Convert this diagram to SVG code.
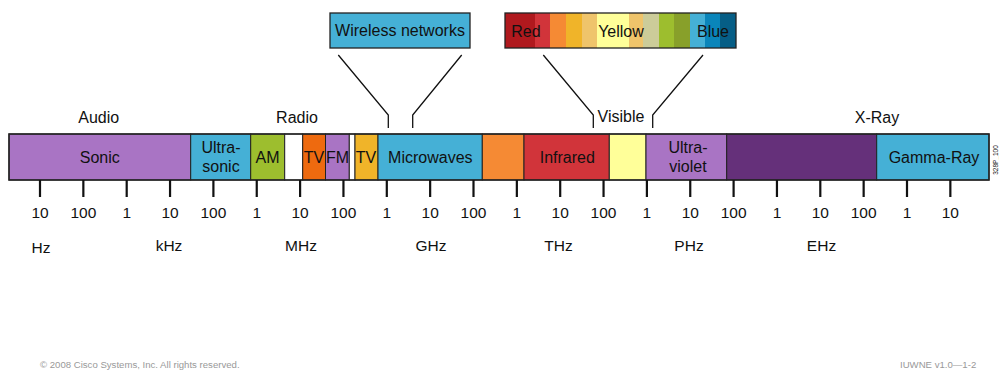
<svg xmlns="http://www.w3.org/2000/svg" width="999" height="371" viewBox="0 0 999 371">
<style>
text{font-family:"Liberation Sans",Arial,sans-serif;fill:#111}
.lbl{font-size:16px;text-anchor:middle}
.tk{font-size:15.5px;text-anchor:middle}
.seg{stroke:#222;stroke-width:1}
.cb{stroke:none}
.conn{fill:none;stroke:#111;stroke-width:1.3}
.tick{stroke:#111;stroke-width:2.2}
.foot{font-size:9.6px;fill:#999}
</style>
<rect width="999" height="371" fill="#fff"/>

<g id="wireless-networks">
<rect x="330" y="13" width="140" height="35" fill="#45B0D6" stroke="#222" stroke-width="1.3"/>
<text class="lbl" x="400" y="36">Wireless networks</text>
</g>

<g id="visible-colors">
<rect class="cb" x="505" y="13" width="30" height="35" fill="#B0191E"/>
<rect class="cb" x="535" y="13" width="15" height="35" fill="#D1343A"/>
<rect class="cb" x="550" y="13" width="16" height="35" fill="#F58A34"/>
<rect class="cb" x="566" y="13" width="16" height="35" fill="#F0B429"/>
<rect class="cb" x="582" y="13" width="15" height="35" fill="#EFC46B"/>
<rect class="cb" x="597" y="13" width="32" height="35" fill="#FFFF99"/>
<rect class="cb" x="629" y="13" width="14" height="35" fill="#EFC46B"/>
<rect class="cb" x="643" y="13" width="16" height="35" fill="#CCCC99"/>
<rect class="cb" x="659" y="13" width="15" height="35" fill="#9DBE2E"/>
<rect class="cb" x="674" y="13" width="16" height="35" fill="#88A02A"/>
<rect class="cb" x="690" y="13" width="15" height="35" fill="#45B0D6"/>
<rect class="cb" x="705" y="13" width="15" height="35" fill="#0A85BA"/>
<rect class="cb" x="720" y="13" width="16" height="35" fill="#065E86"/>
<rect x="505" y="13" width="231" height="35" fill="none" stroke="#222" stroke-width="1.3"/>
<text class="lbl" x="526" y="36.5">Red</text>
<text class="lbl" x="621" y="36.5">Yellow</text>
<text class="lbl" x="713" y="36.5">Blue</text>
</g>

<g id="connectors">
<polyline class="conn" points="338.3,55 388.3,115 388.3,128"/>
<polyline class="conn" points="461.7,55 412.7,115 412.7,128"/>
<polyline class="conn" points="543.3,55 593.3,115 593.3,128"/>
<polyline class="conn" points="703,55 652.7,115 652.7,128"/>
</g>

<g id="band-labels">
<text class="lbl" x="98.7" y="122.5">Audio</text>
<text class="lbl" x="297" y="122.5">Radio</text>
<text class="lbl" x="621" y="122">Visible</text>
<text class="lbl" x="877" y="122.5">X-Ray</text>
</g>

<g id="sonic"><rect class="seg" x="9" y="134" width="181.7" height="46" fill="#A974C4"/><text class="lbl" x="99.8" y="162.5">Sonic</text></g>
<g id="ultrasonic"><rect class="seg" x="190.7" y="134" width="60" height="46" fill="#45B0D6"/><text class="lbl" x="221" y="152.5">Ultra-</text><text class="lbl" x="221" y="172">sonic</text></g>
<g id="am"><rect class="seg" x="250.7" y="134" width="34" height="46" fill="#9DBE2E"/><text class="lbl" x="267.6" y="162.5">AM</text></g>
<g id="gap1"><rect class="seg" x="284.7" y="134" width="18" height="46" fill="#fff"/></g>
<g id="tv1"><rect class="seg" x="302.7" y="134" width="22.8" height="46" fill="#EE6A0F"/><text class="lbl" x="314" y="162.5">TV</text></g>
<g id="fm"><rect class="seg" x="325.5" y="134" width="23.8" height="46" fill="#A974C4"/><text class="lbl" x="337.6" y="162.5">FM</text></g>
<g id="gap2"><rect class="seg" x="349.3" y="134" width="5.7" height="46" fill="#fff"/></g>
<g id="tv2"><rect class="seg" x="355" y="134" width="23" height="46" fill="#F0B429"/><text class="lbl" x="366" y="162.5">TV</text></g>
<g id="microwaves"><rect class="seg" x="378" y="134" width="104.3" height="46" fill="#45B0D6"/><text class="lbl" x="430.3" y="162.5">Microwaves</text></g>
<g id="far-infrared"><rect class="seg" x="482.3" y="134" width="41.7" height="46" fill="#F58A34"/></g>
<g id="infrared"><rect class="seg" x="524" y="134" width="85.3" height="46" fill="#D1343A"/><text class="lbl" x="567.3" y="162.5">Infrared</text></g>
<g id="visible"><rect class="seg" x="609.3" y="134" width="36.7" height="46" fill="#FFFF99"/></g>
<g id="ultraviolet"><rect class="seg" x="646" y="134" width="80.7" height="46" fill="#A974C4"/><text class="lbl" x="688" y="152.5">Ultra-</text><text class="lbl" x="688" y="172">violet</text></g>
<g id="xray"><rect class="seg" x="726.7" y="134" width="150" height="46" fill="#65307A"/></g>
<g id="gamma-ray"><rect class="seg" x="876.7" y="134" width="112.3" height="46" fill="#45B0D6"/><text class="lbl" x="934" y="162.5">Gamma-Ray</text></g>
<rect x="9" y="134" width="980" height="46" fill="none" stroke="#222" stroke-width="1.5"/>

<g id="ticks">
<path class="tick" d="M40 180V197M83.35 180V197M126.7 180V197M170.05 180V197M213.4 180V197M256.75 180V197M300.1 180V197M343.45 180V197M386.8 180V197M430.15 180V197M473.5 180V197M516.85 180V197M560.2 180V197M603.55 180V197M646.9 180V197M690.25 180V197M733.6 180V197M776.95 180V197M820.3 180V197M863.65 180V197M907 180V197M950.35 180V197"/>
<text class="tk" x="40" y="218">10</text>
<text class="tk" x="83.35" y="218">100</text>
<text class="tk" x="126.7" y="218">1</text>
<text class="tk" x="170.05" y="218">10</text>
<text class="tk" x="213.4" y="218">100</text>
<text class="tk" x="256.75" y="218">1</text>
<text class="tk" x="300.1" y="218">10</text>
<text class="tk" x="343.45" y="218">100</text>
<text class="tk" x="386.8" y="218">1</text>
<text class="tk" x="430.15" y="218">10</text>
<text class="tk" x="473.5" y="218">100</text>
<text class="tk" x="516.85" y="218">1</text>
<text class="tk" x="560.2" y="218">10</text>
<text class="tk" x="603.55" y="218">100</text>
<text class="tk" x="646.9" y="218">1</text>
<text class="tk" x="690.25" y="218">10</text>
<text class="tk" x="733.6" y="218">100</text>
<text class="tk" x="776.95" y="218">1</text>
<text class="tk" x="820.3" y="218">10</text>
<text class="tk" x="863.65" y="218">100</text>
<text class="tk" x="907" y="218">1</text>
<text class="tk" x="950.35" y="218">10</text>
</g>

<g id="units">
<text class="tk" x="41" y="252.5">Hz</text>
<text class="tk" x="169" y="250.5">kHz</text>
<text class="tk" x="301" y="250.5">MHz</text>
<text class="tk" x="431" y="250.5">GHz</text>
<text class="tk" x="558.5" y="250.5">THz</text>
<text class="tk" x="689" y="250.5">PHz</text>
<text class="tk" x="821.5" y="250.5">EHz</text>
</g>

<text x="0" y="0" font-size="6.5" fill="#555" text-anchor="middle" transform="translate(998 160) rotate(-90)">328P_100</text>
<text class="foot" x="40" y="368">© 2008 Cisco Systems, Inc. All rights reserved.</text>
<text class="foot" x="900" y="368">IUWNE v1.0—1-2</text>
</svg>
